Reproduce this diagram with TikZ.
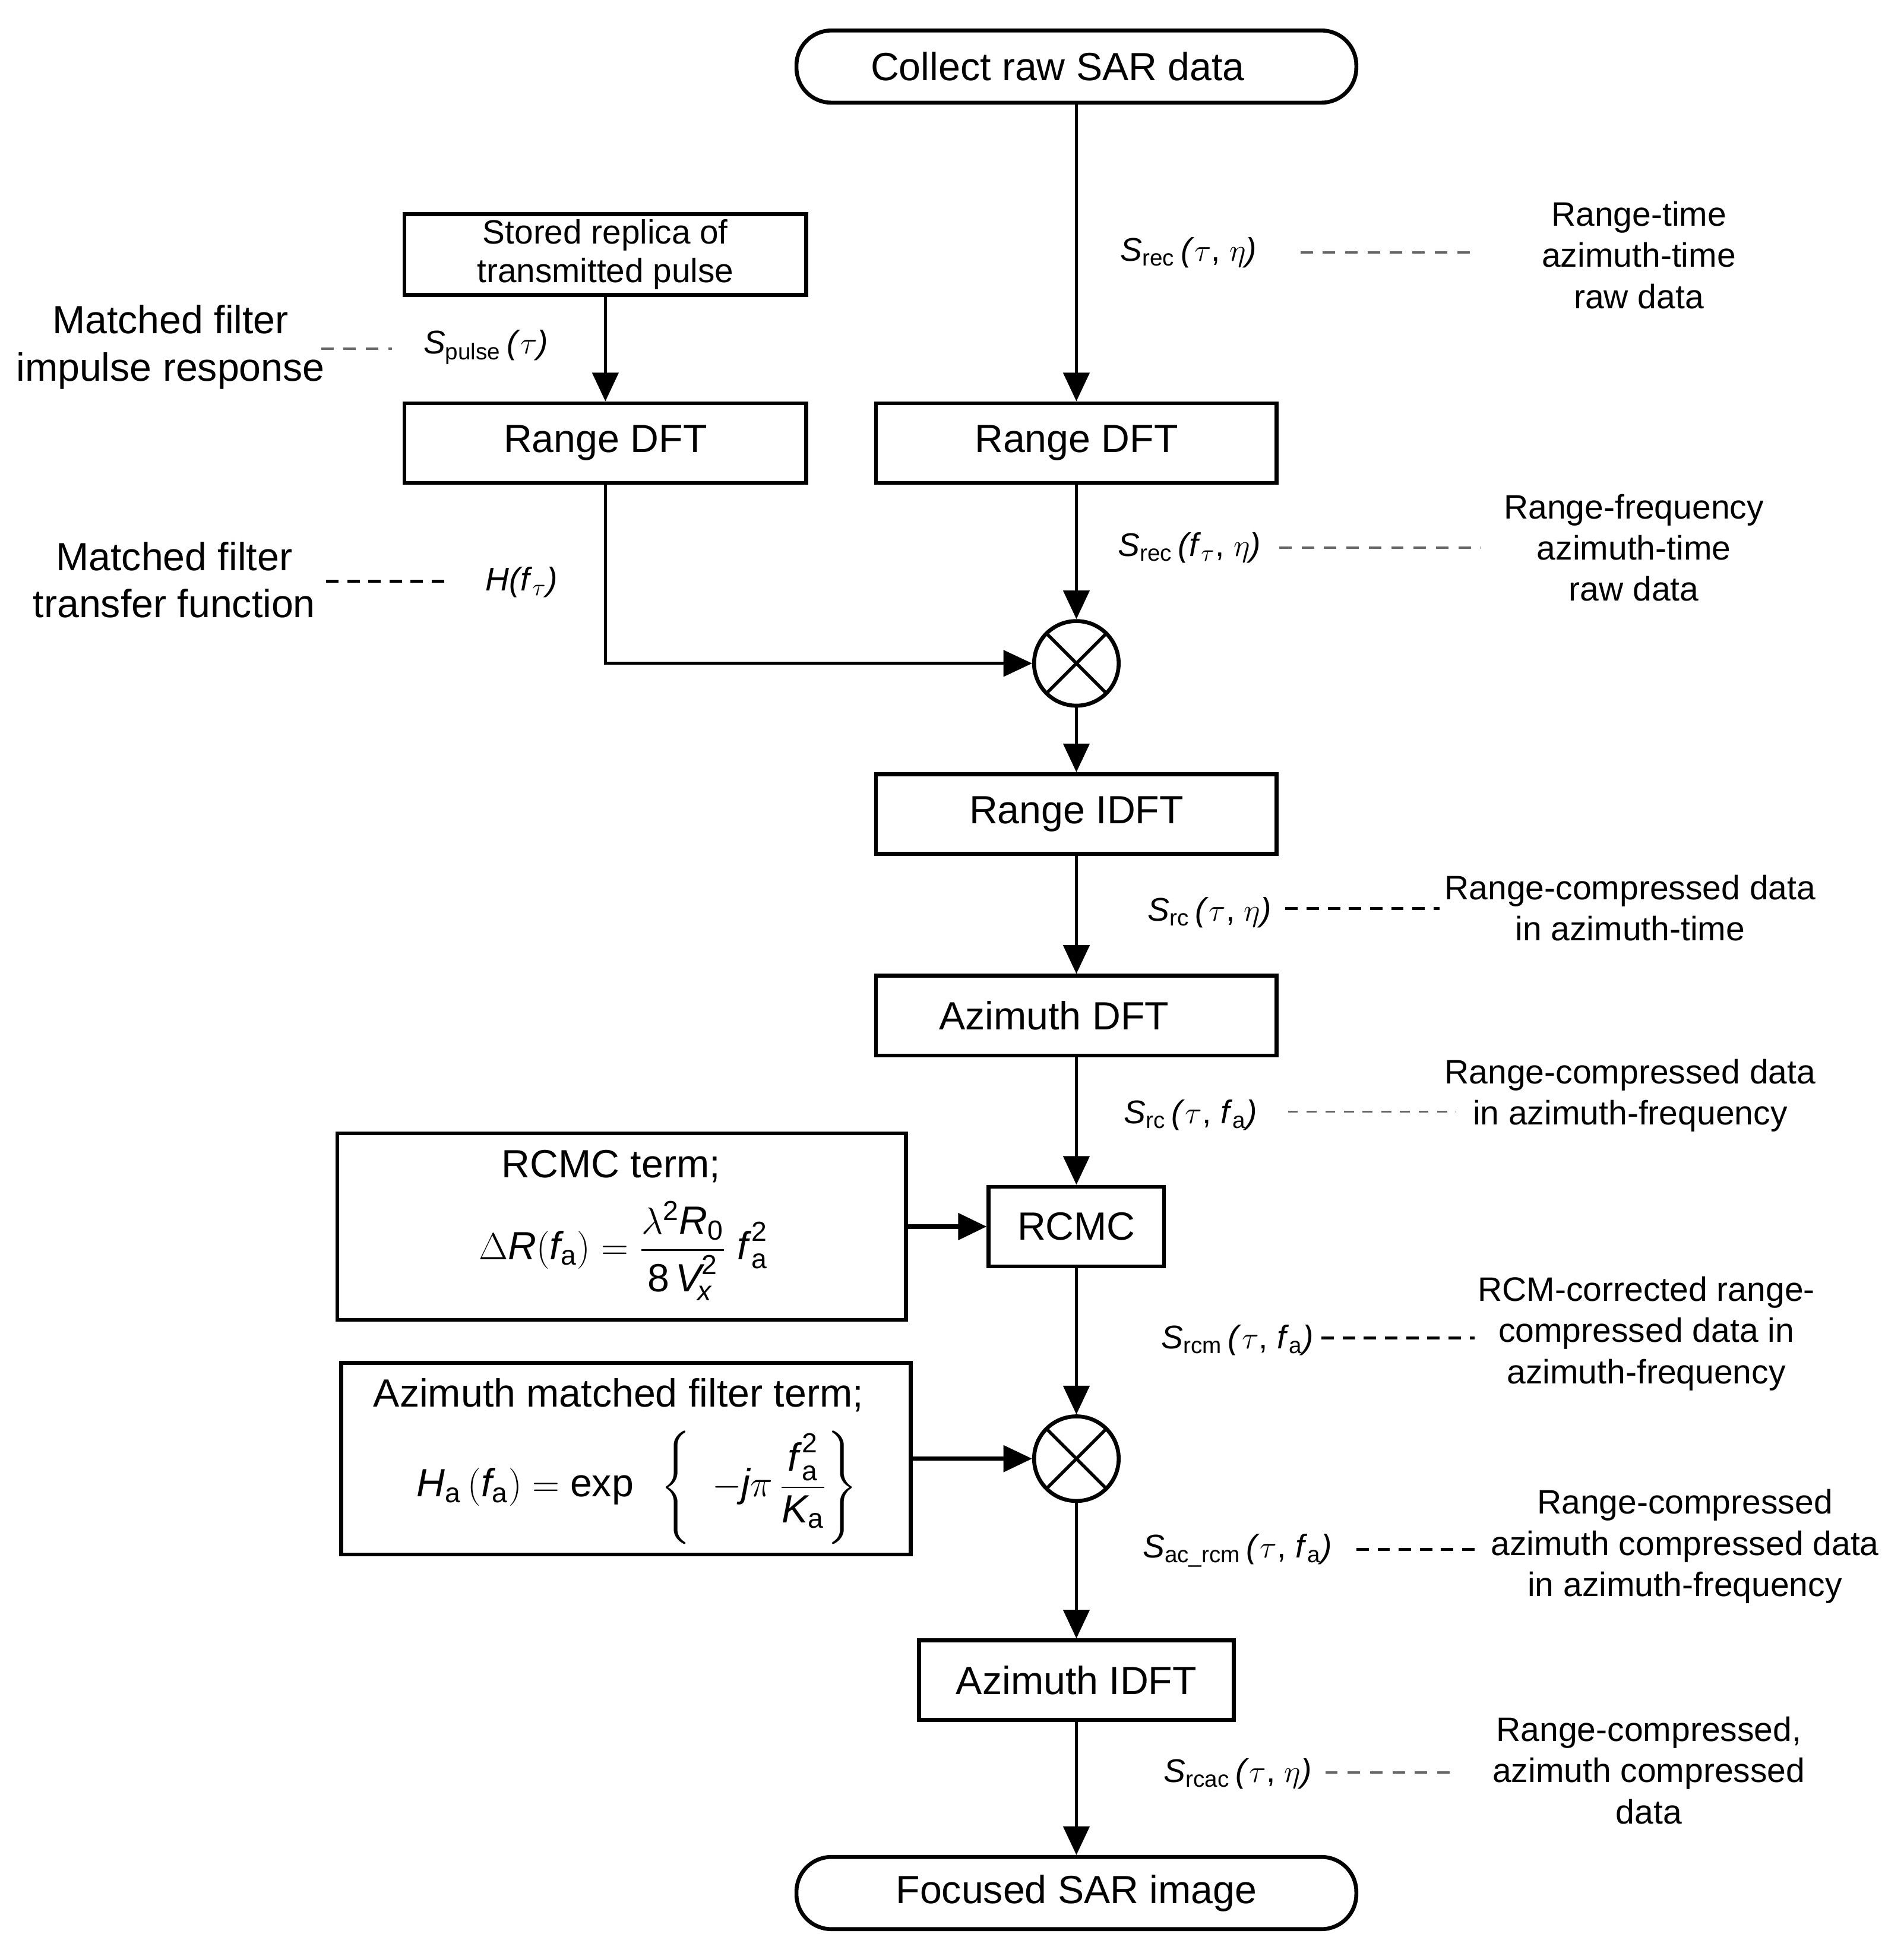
\documentclass[tikz,border=0pt]{standalone}
\usepackage{amsmath}
\usepackage{fontspec}
\setmainfont{Liberation Sans}
\usetikzlibrary{arrows.meta}
\definecolor{dashgray}{gray}{0.4}
\newcommand{\ita}[1]{\textit{#1}}
\newcommand{\fa}{{\ita{f}\kern1.5pt}}
\begin{document}
\begin{tikzpicture}[x=0.02cm,y=-0.02cm,
  box/.style={draw, line width=1.8pt, inner sep=0pt, minimum height=1.28cm, font=\fontsize{18}{21.6}\selectfont},
  term/.style={draw, line width=1.8pt, rounded corners=0.56cm, inner sep=0pt, minimum width=9cm, minimum height=1.16cm, font=\fontsize{18}{21.6}\selectfont},
  mult/.style={draw, circle, line width=1.8pt, minimum size=1.36cm, inner sep=0pt,
    path picture={\draw[line width=1.5pt] (path picture bounding box.north west) -- (path picture bounding box.south east)
      (path picture bounding box.north east) -- (path picture bounding box.south west);}},
  arr/.style={-{Triangle[length=0.46cm,width=0.42cm]}, line width=1.3pt},
  sig/.style={inner sep=0pt, anchor=west, font=\fontsize{15}{18}\selectfont},
  desc/.style={inner sep=0pt, align=center, font=\fontsize{15.5}{18.8}\selectfont},
  side/.style={inner sep=0pt, align=center, font=\fontsize{18}{21.6}\selectfont},
  txt/.style={inner sep=0pt, font=\fontsize{18}{21.6}\selectfont},
  dashg/.style={dash pattern=on 0.2cm off 0.16cm, line width=1pt, draw=dashgray},
  dashk/.style={dash pattern=on 0.2cm off 0.14cm, line width=1.4pt},
  dashf/.style={dash pattern=on 0.16cm off 0.14cm, line width=0.8pt, draw=dashgray}
]
\useasboundingbox (0,0) rectangle (1530,1574);

% main flow
\node[term] (collect) at (865,53.5) {\hspace*{-0.6cm}Collect raw SAR data};
\node[box, minimum width=6.46cm, minimum height=1.3cm, align=center, font=\fontsize{15.4}{17.6}\selectfont] (stored) at (486.5,204.5) {Stored replica of\\transmitted pulse};
\node[box, minimum width=6.46cm] (rdftL) at (486.5,356) {Range DFT};
\node[box, minimum width=6.44cm] (rdftR) at (865,356) {Range DFT};
\node[mult] (m1) at (865,533) {};
\node[box, minimum width=6.44cm] (ridft) at (865,654) {Range IDFT};
\node[box, minimum width=6.44cm] (adft) at (865,816) {\hspace*{-0.72cm}Azimuth DFT};
\node[box, minimum width=2.82cm] (rcmc) at (865,985.5) {RCMC};
\node[box, minimum width=9.14cm, minimum height=3cm] (rterm) at (499.5,985.5) {};
\node[txt] (rtermt) at (491,937) {RCMC term;};
\node[txt] (rtermf) at (501,1005) {$\Delta\ita{R}(\ita{f}_{\text{a}}) = \dfrac{\lambda^{\text{2}}\ita{R}_{\text{0}}}{\text{8}\,\ita{V}_{\!\ita{x}}^{\text{2}}}\;\fa_{\text{a}}^{\text{2}}$};
\node[box, minimum width=9.16cm, minimum height=3.08cm] (amf) at (503,1172) {};
\node[txt] (amft) at (497,1121) {Azimuth matched filter term;};
\node[txt] (amff) at (512,1195) {$\ita{H}_{\text{a}}\,(\ita{f}_{\text{a}}) = \text{exp}\;\;\left\{\;\;-\ita{j}\pi\,\dfrac{\fa_{\text{a}}^{\text{2}}}{\ita{K}_{\text{a}}}\right\}$};
\node[mult] (m2) at (865,1172) {};
\node[box, minimum width=5.06cm] (aidft) at (865,1350) {Azimuth IDFT};
\node[term] (focused) at (865,1521) {Focused SAR image};

% connectors
\draw[arr] (collect) -- (rdftR);
\draw[arr] (stored) -- (rdftL);
\draw[arr] (rdftR) -- (m1);
\draw[arr] (rdftL.south) |- (m1.west);
\draw[arr] (m1) -- (ridft);
\draw[arr] (ridft) -- (adft);
\draw[arr] (adft) -- (rcmc);
\draw[arr, line width=2.2pt] (rterm) -- (rcmc);
\draw[arr] (rcmc) -- (m2);
\draw[arr, line width=1.8pt] (amf) -- (m2);
\draw[arr] (m2) -- (aidft);
\draw[arr] (aidft) -- (focused);

% signal labels
\node[sig] (srec) at (900,203) {\ita{S}\textsubscript{rec}\,\ita{(}$\tau$, $\eta$\ita{)}};
\node[sig] (spulse) at (340,279) {\ita{S}\textsubscript{pulse}\,\ita{(}$\tau$\ita{)}};
\node[sig] (hft) at (390,468) {\ita{H}\ita{(f}\textsubscript{$\tau$}\ita{)}};
\node[sig] (srecf) at (898,440) {\ita{S}\textsubscript{rec}\,\ita{(f}\textsubscript{$\tau$}, $\eta$\ita{)}};
\node[sig] (src) at (922,733) {\ita{S}\textsubscript{rc}\,\ita{(}$\tau$, $\eta$\ita{)}};
\node[sig] (srcf) at (903,896) {\ita{S}\textsubscript{rc}\,\ita{(}$\tau$, \ita{f}\textsubscript{a}\ita{)}};
\node[sig] (srcm) at (933,1077) {\ita{S}\textsubscript{rcm}\,\ita{(}$\tau$, \ita{f}\textsubscript{a}\ita{)}};
\node[sig] (sacrcm) at (918,1246) {\ita{S}\textsubscript{ac\_rcm}\,\ita{(}$\tau$, \ita{f}\textsubscript{a}\ita{)}};
\node[sig] (srcac) at (935,1425) {\ita{S}\textsubscript{rcac}\,\ita{(}$\tau$, $\eta$\ita{)}};

% descriptions
\node[side] (mfir) at (137,279) {Matched filter\\impulse response};
\node[side] (mftf) at (140,466) {Matched filter\\transfer function};
\node[desc] (d1) at (1317,205) {Range-time\\azimuth-time\\raw data};
\node[desc] (d2) at (1313,440) {Range-frequency\\azimuth-time\\raw data};
\node[desc] (d3) at (1310,729.5) {Range-compressed data\\in azimuth-time};
\node[desc] (d4) at (1310,880) {Range-compressed data\\in azimuth-frequency};
\node[desc] (d5) at (1323,1071.5) {RCM-corrected range-\\compressed data in\\azimuth-frequency};
\node[desc] (d6) at (1354,1242.5) {Range-compressed\\azimuth compressed data\\in azimuth-frequency};
\node[desc] (d7) at (1325,1422.5) {Range-compressed,\\azimuth compressed\\data};

% dashed leaders
\coordinate (a1) at (1045,203); \coordinate (b1) at (1188,203);
\coordinate (a2) at (258,280);  \coordinate (b2) at (315,280);
\coordinate (a3) at (262,467);  \coordinate (b3) at (362,467);
\coordinate (a4) at (1028,440); \coordinate (b4) at (1190,440);
\coordinate (a5) at (1033,730); \coordinate (b5) at (1157,730);
\coordinate (a6) at (1035,893); \coordinate (b6) at (1170,893);
\coordinate (a7) at (1062,1075); \coordinate (b7) at (1185,1075);
\coordinate (a8) at (1090,1245); \coordinate (b8) at (1185,1245);
\coordinate (a9) at (1065,1424); \coordinate (b9) at (1165,1424);
\draw[dashg] (a1) -- (b1);
\draw[dashg] (a2) -- (b2);
\draw[dashk] (a3) -- (b3);
\draw[dashg] (a4) -- (b4);
\draw[dashk] (a5) -- (b5);
\draw[dashf] (a6) -- (b6);
\draw[dashk] (a7) -- (b7);
\draw[dashk] (a8) -- (b8);
\draw[dashg] (a9) -- (b9);
\end{tikzpicture}
\end{document}
